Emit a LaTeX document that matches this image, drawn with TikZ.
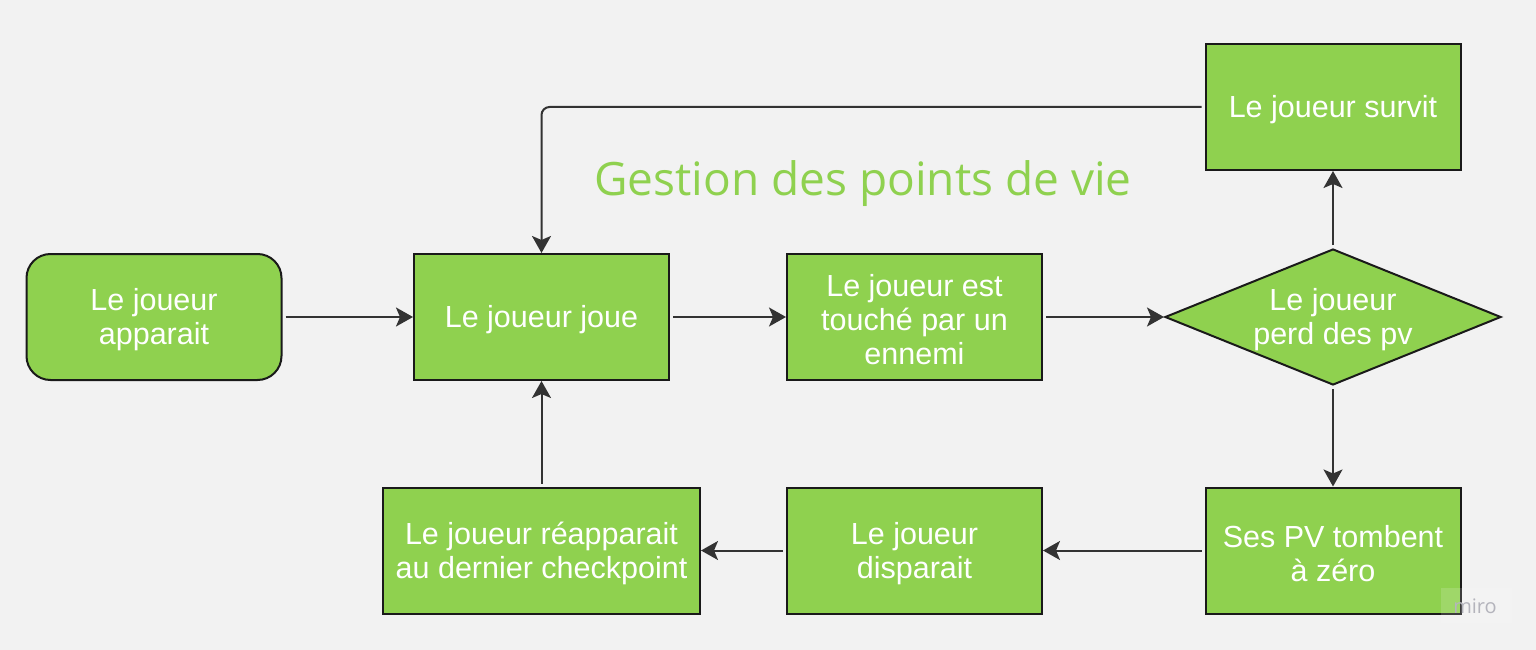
\documentclass[tikz,border=0pt]{standalone}
\usepackage{fontspec}
\setmainfont{Liberation Sans}
\newfontfamily\titlefont{Open Sans}
\usetikzlibrary{shapes.geometric,arrows.meta}
\definecolor{bg}{HTML}{F2F2F2}
\definecolor{boxgreen}{HTML}{8FD14F}
\definecolor{edge}{HTML}{1A1A1A}
\definecolor{arrowc}{HTML}{333333}
\definecolor{mirogray}{HTML}{B4B4BC}
\tikzset{
  boxtext/.style={text=white, font=\fontsize{30.5}{34}\selectfont, align=center, yshift=-3pt},
  box/.style={draw=edge, line width=2pt, fill=boxgreen, inner sep=0pt},
  stepbox/.style={box, minimum width=255pt, minimum height=126pt},
  startbox/.style={stepbox, rounded corners=24pt},
  decision/.style={box, diamond, minimum width=336pt, minimum height=136pt, aspect=2.47},
  conn/.style={draw=arrowc, line width=2pt, -{Stealth[length=17pt,width=19pt,inset=4pt]}, shorten <=3pt}
}
\begin{document}
\begin{tikzpicture}[x=1pt,y=-1pt]
\fill[bg] (0,0) rectangle (1536,650);
\useasboundingbox (0,0) rectangle (1536,650);

\node[startbox] (apparait) at (154,317) {};
\node[boxtext] (apparaittext) at (apparait.center) {Le joueur\\apparait};
\node[stepbox] (joue) at (541.5,317) {};
\node[boxtext] (jouetext) at (joue.center) {Le joueur joue};
\node[stepbox] (touche) at (914.5,317) {};
\node[boxtext] (touchetext) at (touche.center) {Le joueur est\\touché par un\\ennemi};
\node[decision] (perd) at (1333,317) {};
\node[boxtext] (perdtext) at (perd.center) {Le joueur\\perd des pv};
\node[stepbox] (survit) at (1333,107) {};
\node[boxtext] (survittext) at (survit.center) {Le joueur survit};
\node[stepbox] (zero) at (1333,550.5) {};
\node[boxtext] (zerotext) at (zero.center) {Ses PV tombent\\à zéro};
\node[stepbox] (disparait) at (914.5,550.5) {};
\node[boxtext] (disparaittext) at (disparait.center) {Le joueur\\disparait};
\node[stepbox, minimum width=317pt] (reapp) at (541.5,550.5) {};
\node[boxtext] (reapptext) at (reapp.center) {Le joueur réapparait\\au dernier checkpoint};

\node[text=boxgreen, font=\titlefont\fontsize{46}{50}\selectfont] (title) at (863,184) {Gestion des points de vie};

\draw[conn] (apparait.east) -- (joue.west);
\draw[conn] (joue.east) -- (touche.west);
\draw[conn] (touche.east) -- (perd.west);
\draw[conn] (perd.north) -- (survit.south);
\draw[conn] (perd.south) -- (zero.north);
\draw[conn] (zero.west) -- (disparait.east);
\draw[conn] (disparait.west) -- (reapp.east);
\draw[conn] (reapp.north) -- (joue.south);
\coordinate (corner) at (joue.north |- survit.west);
\draw[conn, rounded corners=8pt] (survit.west) -- (corner) -- (joue.north);

\fill[white, opacity=0.15] (1441,588) rectangle (1512,623);
\node[text=mirogray, font=\titlefont\fontsize{20}{22}\selectfont] (miro) at (1475,606) {miro};
\end{tikzpicture}
\end{document}
